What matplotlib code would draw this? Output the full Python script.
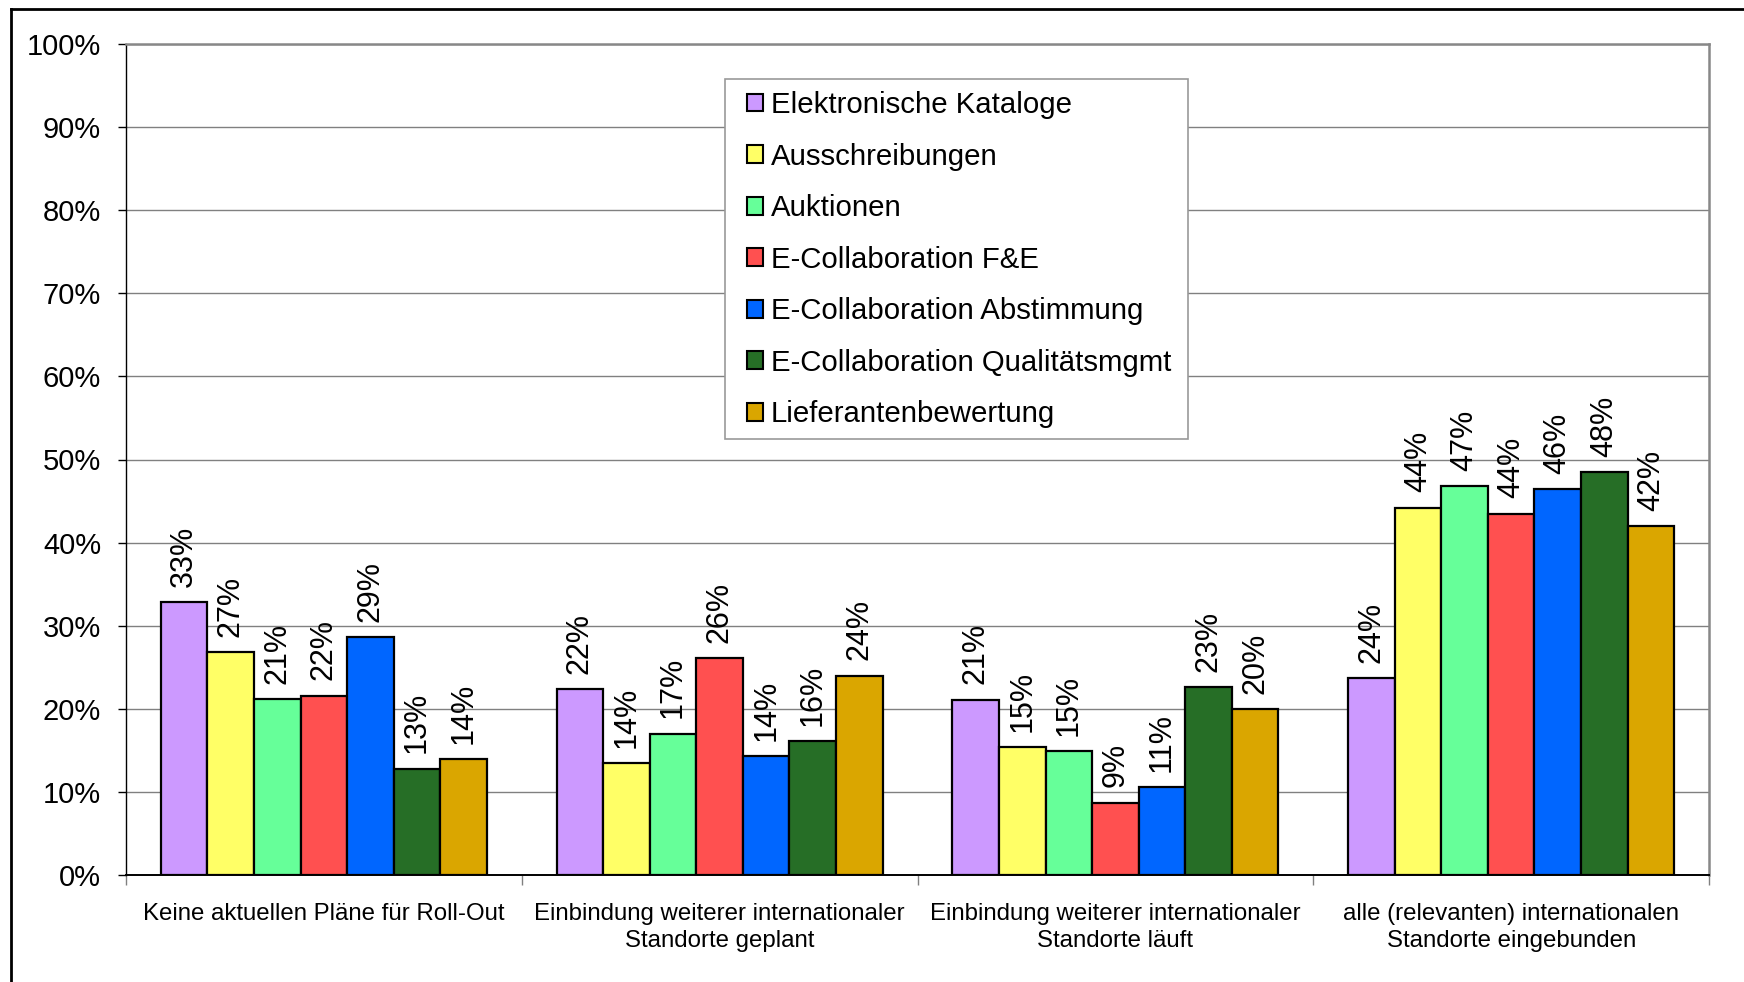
import matplotlib
matplotlib.use("Agg")
import matplotlib.pyplot as plt
from matplotlib.patches import Patch, Rectangle
from matplotlib.lines import Line2D
import numpy as np

plt.rcParams['font.family'] = ['Liberation Sans', 'DejaVu Sans']

categories = [
    "Keine aktuellen Pläne für Roll-Out",
    "Einbindung weiterer internationaler\nStandorte geplant",
    "Einbindung weiterer internationaler\nStandorte läuft",
    "alle (relevanten) internationalen\nStandorte eingebunden",
]
series_names = [
    "Elektronische Kataloge",
    "Ausschreibungen",
    "Auktionen",
    "E-Collaboration F&E",
    "E-Collaboration Abstimmung",
    "E-Collaboration Qualitätsmgmt",
    "Lieferantenbewertung",
]
# values per series, across the 4 categories (percent)
elektronische_kataloge = [32.8, 22.4, 21.1, 23.7]
ausschreibungen = [26.8, 13.5, 15.4, 44.2]
auktionen = [21.2, 17.0, 14.9, 46.8]
collab_fe = [21.6, 26.1, 8.7, 43.5]
collab_abstimmung = [28.6, 14.3, 10.6, 46.4]
collab_qualitaet = [12.8, 16.1, 22.6, 48.5]
lieferantenbewertung = [13.9, 24.0, 20.0, 42.0]
label_texts = [
    ["33%", "22%", "21%", "24%"],
    ["27%", "14%", "15%", "44%"],
    ["21%", "17%", "15%", "47%"],
    ["22%", "26%", "9%", "44%"],
    ["29%", "14%", "11%", "46%"],
    ["13%", "16%", "23%", "48%"],
    ["14%", "24%", "20%", "42%"],
]
all_values = [elektronische_kataloge, ausschreibungen, auktionen, collab_fe,
              collab_abstimmung, collab_qualitaet, lieferantenbewertung]
colors = ["#CC99FF", "#FFFF66", "#66FF99", "#FF5050", "#0066FF", "#266E26", "#DAA600"]
yticks = [0, 10, 20, 30, 40, 50, 60, 70, 80, 90, 100]
ytick_labels = [f"{v}%" for v in yticks]

W, H = 1744, 982
fig = plt.figure(figsize=(W / 100, H / 100), dpi=100)
ax = fig.add_axes([126 / W, 1 - 875 / H, (1709 - 126) / W, (875 - 44) / H])

n = len(series_names)
bw = 1.0 / (n + 1.5)
x = np.arange(len(categories))
for i, (vals, col, name) in enumerate(zip(all_values, colors, series_names)):
    pos = x + (i - (n - 1) / 2) * bw
    bars = ax.bar(pos, vals, width=bw, color=col, edgecolor="black", linewidth=1.6,
                  label=name, zorder=3)
    for b, txt in zip(bars, label_texts[i]):
        ax.annotate(txt, (b.get_x() + b.get_width() / 2, b.get_height()),
                    xytext=(0, 11), textcoords="offset points", rotation=90,
                    ha="center", va="bottom", fontsize=22, zorder=4)

ax.set_xlim(-0.5, len(categories) - 0.5)
ax.set_ylim(0, 100)
ax.set_yticks(yticks)
ax.set_yticklabels(ytick_labels, fontsize=21)
ax.yaxis.grid(True, color="#808080", linewidth=1.0, zorder=0)
ax.set_axisbelow(True)
ax.tick_params(axis="y", length=6, width=1, color="black", pad=12)

ax.set_xticks(x)
ax.set_xticklabels(categories, fontsize=17.3, linespacing=1.3)
ax.tick_params(axis="x", which="major", length=0, pad=20)
ax.set_xticks(np.arange(-0.5, len(categories)), minor=True)
ax.tick_params(axis="x", which="minor", length=7, width=1, color="#808080")

for s in ["top", "right"]:
    ax.spines[s].set_color("#888888")
    ax.spines[s].set_linewidth(1.8)
ax.spines["left"].set_color("black")
ax.spines["left"].set_linewidth(1.0)
ax.spines["bottom"].set_color("black")
ax.spines["bottom"].set_linewidth(1.4)

# legend box
fig.add_artist(Rectangle((725 / W, 1 - 439 / H), (1188 - 725) / W, (439 - 79) / H,
                         transform=fig.transFigure, facecolor="white",
                         edgecolor="#999999", linewidth=1.2, zorder=5))
handles = [Patch(facecolor=c, edgecolor="black", linewidth=1.5) for c in colors]
leg = fig.legend(handles, series_names, loc="upper left",
                 bbox_to_anchor=(747 / W, 1 - 91 / H), fontsize=21.2,
                 frameon=False, handlelength=0.55, handleheight=0.55,
                 handletextpad=0.25, labelspacing=0.80, borderpad=0,
                 borderaxespad=0)
leg.set_zorder(6)

# outer chart frame (cut off at right and bottom)
fig.add_artist(Line2D([11 / W, 1.0], [1 - 8.5 / H, 1 - 8.5 / H], color="black",
                      linewidth=2.0, transform=fig.transFigure))
fig.add_artist(Line2D([11 / W, 11 / W], [0, 1 - 8.5 / H], color="black",
                      linewidth=2.0, transform=fig.transFigure))

fig.savefig("out.png", dpi=100)
